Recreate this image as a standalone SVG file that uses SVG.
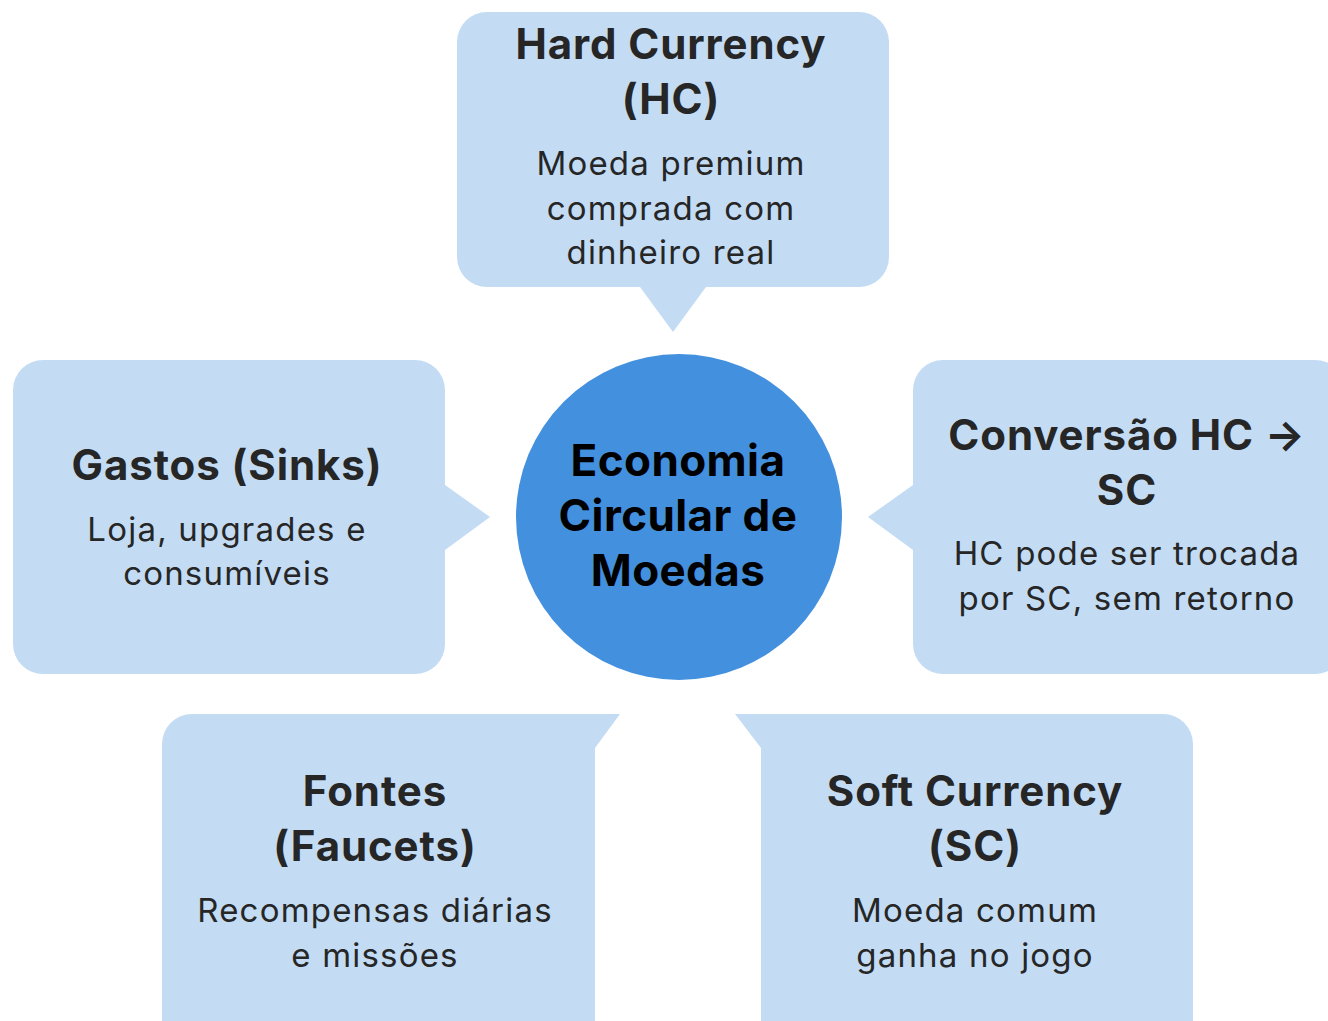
<svg xmlns="http://www.w3.org/2000/svg" width="1328" height="1021" viewBox="0 0 1328 1021">
<style>
.box{fill:#c3dcf4}
.hub{fill:#4390df}
.t{font-family:Inter,"Liberation Sans",sans-serif;font-weight:700;font-size:42px;letter-spacing:0.9px;fill:#262626;text-anchor:middle}
.b{font-family:Inter,"Liberation Sans",sans-serif;font-weight:400;font-size:33px;letter-spacing:1.2px;fill:#262626;text-anchor:middle}
.c{font-family:Inter,"Liberation Sans",sans-serif;font-weight:700;font-size:44px;letter-spacing:0.4px;fill:#000;text-anchor:middle}
</style>
<rect width="1328" height="1021" fill="#fff"/>
<g id="connectors"></g>
<g id="hard-currency">
<path class="box" d="M487,12 H859 A30,30 0 0 1 889,42 V257 A30,30 0 0 1 859,287 H706 L673,332 L640,287 H487 A30,30 0 0 1 457,257 V42 A30,30 0 0 1 487,12 Z"/>
<text class="t" x="671" y="59">Hard Currency</text>
<text class="t" x="671" y="114">(HC)</text>
<text class="b" x="671" y="175">Moeda premium</text>
<text class="b" x="671" y="220">comprada com</text>
<text class="b" x="671" y="264">dinheiro real</text>
</g>
<g id="gastos">
<path class="box" d="M43,360 H415 A30,30 0 0 1 445,390 V485 L490,517 L445,550 V644 A30,30 0 0 1 415,674 H43 A30,30 0 0 1 13,644 V390 A30,30 0 0 1 43,360 Z"/>
<text class="t" x="227" y="480">Gastos (Sinks)</text>
<text class="b" x="227" y="541">Loja, upgrades e</text>
<text class="b" x="227" y="585">consumíveis</text>
</g>
<g id="conversao">
<path class="box" d="M943,360 H1315 A30,30 0 0 1 1345,390 V644 A30,30 0 0 1 1315,674 H943 A30,30 0 0 1 913,644 V550 L868,517 L913,485 V390 A30,30 0 0 1 943,360 Z"/>
<text class="t" x="1127" y="450">Conversão HC →</text>
<text class="t" x="1127" y="505">SC</text>
<text class="b" x="1127" y="565">HC pode ser trocada</text>
<text class="b" x="1127" y="610">por SC, sem retorno</text>
</g>
<g id="fontes">
<path class="box" d="M192,714 H620 L595,748 V1070 A30,30 0 0 1 565,1100 H192 A30,30 0 0 1 162,1070 V744 A30,30 0 0 1 192,714 Z"/>
<text class="t" x="375" y="806">Fontes</text>
<text class="t" x="375" y="861">(Faucets)</text>
<text class="b" x="375" y="922">Recompensas diárias</text>
<text class="b" x="375" y="967">e missões</text>
</g>
<g id="soft-currency">
<path class="box" d="M735,714 H1163 A30,30 0 0 1 1193,744 V1070 A30,30 0 0 1 1163,1100 H791 A30,30 0 0 1 761,1070 V748 L735,714 Z"/>
<text class="t" x="975" y="806">Soft Currency</text>
<text class="t" x="975" y="861">(SC)</text>
<text class="b" x="975" y="922">Moeda comum</text>
<text class="b" x="975" y="967">ganha no jogo</text>
</g>
<g id="economia">
<circle class="hub" cx="679" cy="517" r="163"/>
<text class="c" x="678" y="476">Economia</text>
<text class="c" x="678" y="531">Circular de</text>
<text class="c" x="678" y="586">Moedas</text>
</g>
</svg>
